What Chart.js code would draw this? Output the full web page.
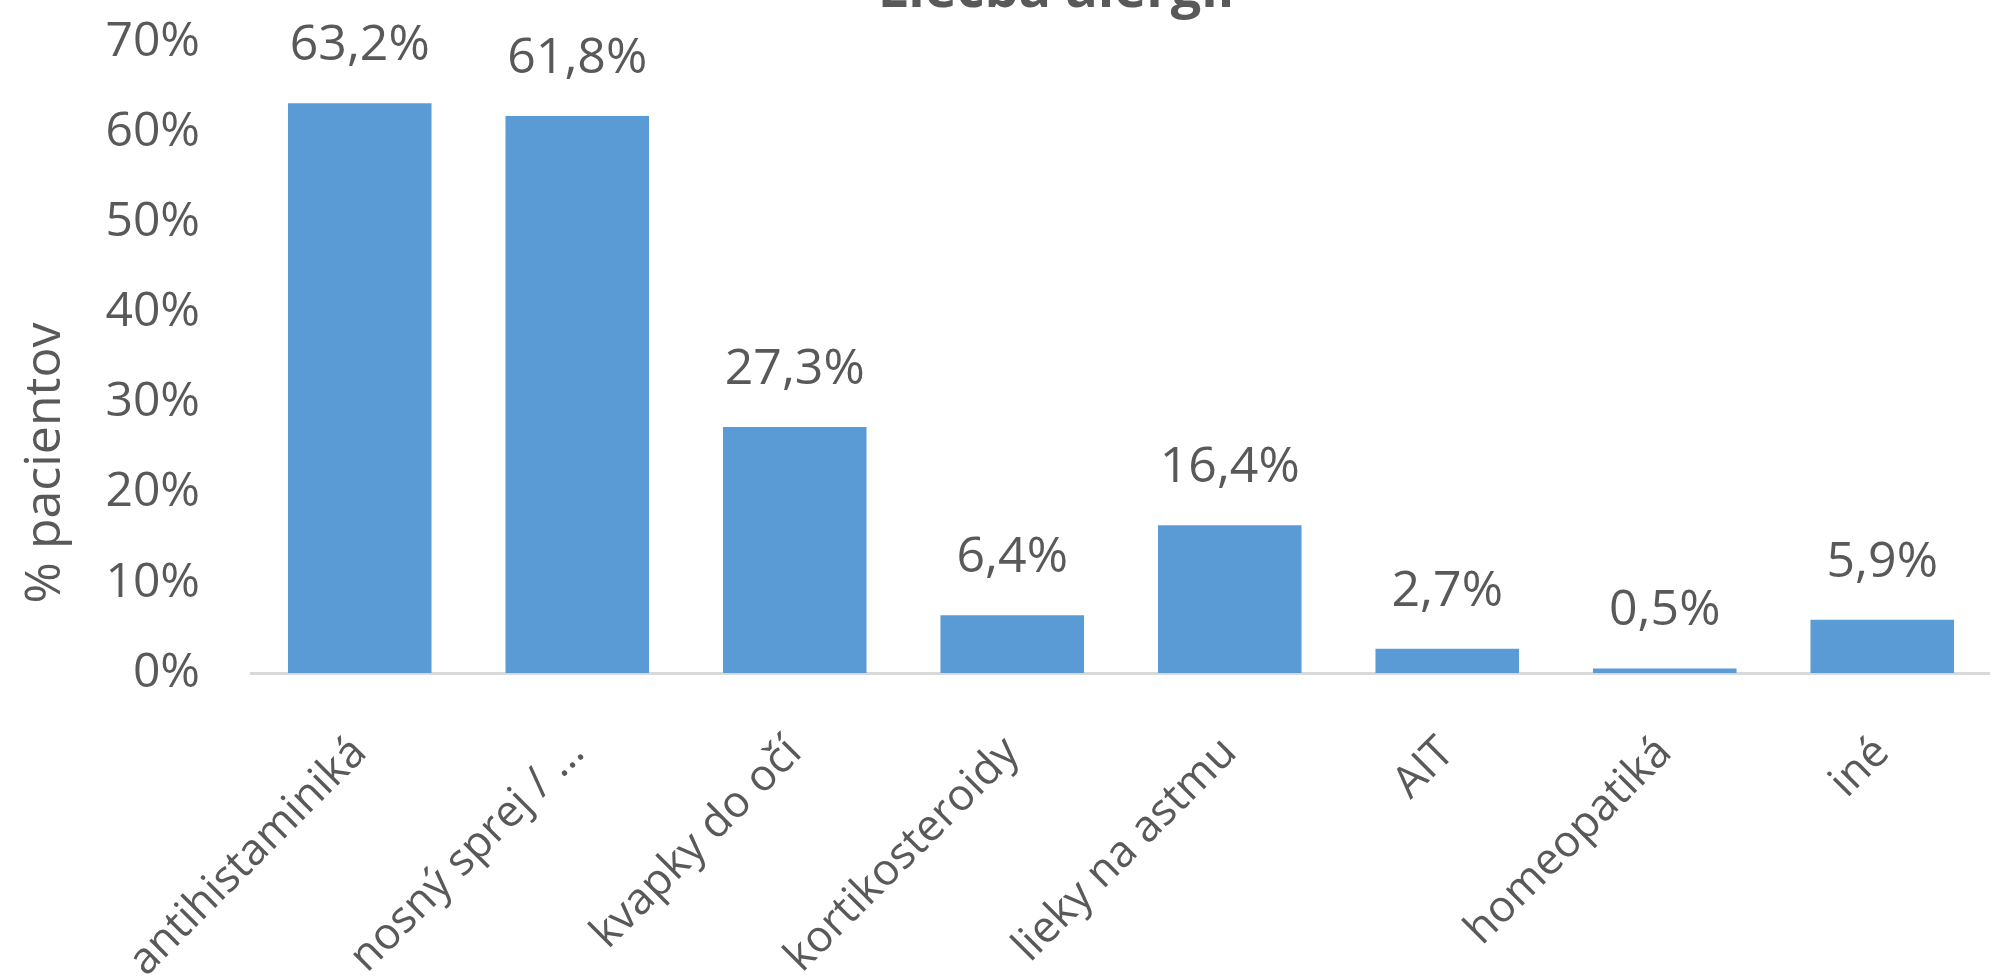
<!DOCTYPE html>
<html>
<head>
<meta charset="utf-8">
<script src="https://cdn.jsdelivr.net/npm/chart.js@4"></script>
<style>
  html, body { margin: 0; padding: 0; background: #fff; overflow: hidden; }
  canvas { display: block; }
</style>
</head>
<body>
<canvas id="chart" width="1995" height="980"></canvas>
<script>
// data
const categories = [
  "antihistaminiká",
  "nosný sprej / …",
  "kvapky do očí",
  "kortikosteroidy",
  "lieky na astmu",
  "AIT",
  "homeopatiká",
  "iné",
];
const percentValues = [63.2, 61.8, 27.3, 6.4, 16.4, 2.7, 0.5, 5.9];
const yTickValues = [0, 10, 20, 30, 40, 50, 60, 70];
const chartTitle = "Liečba alergií";
const yAxisTitle = "% pacientov";

const textColor = "#595959";
const barColor = "#5B9BD5";
const fontFamily = "'Open Sans', 'DejaVu Sans', sans-serif";

function fmt(v) {
  return v.toFixed(1).replace(".", ",") + "%";
}

// value labels above the bars
const valueLabels = {
  id: "valueLabels",
  afterDatasetsDraw(chart) {
    const ctx = chart.ctx;
    const meta = chart.getDatasetMeta(0);
    ctx.save();
    ctx.font = "50px " + fontFamily;
    ctx.fillStyle = textColor;
    ctx.textAlign = "center";
    ctx.textBaseline = "alphabetic";
    meta.data.forEach((bar, i) => {
      ctx.fillText(fmt(percentValues[i]), bar.x, bar.y - 43);
    });
    ctx.restore();
  },
};

// chart title (cut off at the top) and the y axis title
const extraText = {
  id: "extraText",
  afterDraw(chart) {
    const ctx = chart.ctx;
    ctx.save();
    ctx.fillStyle = textColor;
    ctx.textAlign = "center";
    ctx.font = "bold 54px " + fontFamily;
    ctx.textBaseline = "alphabetic";
    ctx.fillText(chartTitle, 1056, 7);

    ctx.translate(46, 463);
    ctx.rotate(-Math.PI / 2);
    ctx.font = "50px " + fontFamily;
    ctx.textBaseline = "middle";
    ctx.fillText(yAxisTitle, 0, 0);
    ctx.restore();
  },
};

const ctx = document.getElementById("chart").getContext("2d");
new Chart(ctx, {
  type: "bar",
  data: {
    labels: categories,
    datasets: [
      {
        data: percentValues,
        backgroundColor: barColor,
        borderWidth: 0,
        categoryPercentage: 0.66,
        barPercentage: 1.0,
      },
    ],
  },
  options: {
    responsive: false,
    animation: false,
    devicePixelRatio: 1,
    layout: { padding: { top: 42, right: 4, left: 0, bottom: 0 } },
    plugins: {
      legend: { display: false },
      tooltip: { enabled: false },
      title: { display: false },
    },
    scales: {
      x: {
        grid: { display: false },
        border: { display: true, color: "#D9D9D9", width: 3 },
        ticks: {
          color: textColor,
          font: { family: fontFamily, size: 44 },
          minRotation: 45,
          maxRotation: 45,
          padding: 46,
          autoSkip: false,
        },
        afterFit(scale) {
          scale.height = 307;
        },
      },
      y: {
        min: 0,
        max: 70,
        grid: { display: false },
        border: { display: false },
        afterBuildTicks(scale) {
          scale.ticks = yTickValues.map((v) => ({ value: v }));
        },
        ticks: {
          color: textColor,
          font: { family: fontFamily, size: 48 },
          padding: 43,
          callback: (v) => v + "%",
        },
        afterFit(scale) {
          scale.width = 251;
          // tick padding would otherwise push the plot area down
          scale.paddingTop = 0;
          scale.paddingBottom = 0;
        },
      },
    },
  },
  plugins: [valueLabels, extraText],
});
</script>
</body>
</html>
